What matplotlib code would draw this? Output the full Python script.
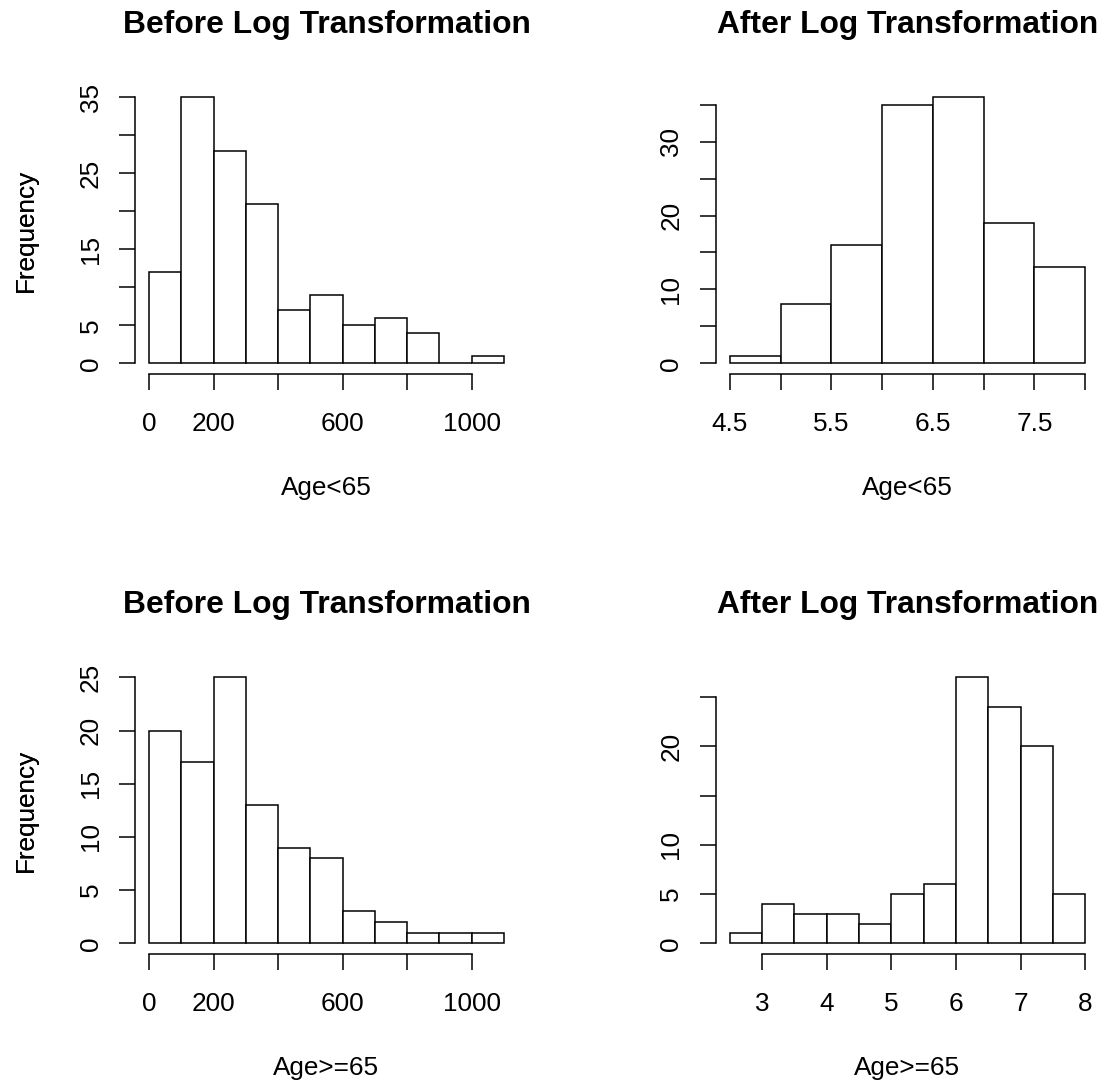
import matplotlib
matplotlib.use("Agg")
import matplotlib.pyplot as plt

plt.rcParams['font.family'] = ['Liberation Sans', 'DejaVu Sans']

# Age<65, raw values (bins of width 100)
young_raw_edges = [0, 100, 200, 300, 400, 500, 600, 700, 800, 900, 1000, 1100]
young_raw_counts = [12, 35, 28, 21, 7, 9, 5, 6, 4, 0, 1]

# Age<65, log values
young_log_edges = [4.5, 5.0, 5.5, 6.0, 6.5, 7.0, 7.5, 8.0]
young_log_counts = [1, 8, 16, 35, 36, 19, 13]

# Age>=65, raw values
old_raw_edges = [0, 100, 200, 300, 400, 500, 600, 700, 800, 900, 1000, 1100]
old_raw_counts = [20, 17, 25, 13, 9, 8, 3, 2, 1, 1, 1]

# Age>=65, log values
old_log_edges = [2.5, 3.0, 3.5, 4.0, 4.5, 5.0, 5.5, 6.0, 6.5, 7.0, 7.5, 8.0]
old_log_counts = [1, 4, 3, 3, 2, 5, 6, 27, 24, 20, 5]

# ticks and the labels R actually printed (others dropped for overlap)
raw_xticks = [0, 200, 400, 600, 800, 1000]
raw_xlabels = ["0", "200", "", "600", "", "1000"]
ylog_xticks = [4.5, 5.0, 5.5, 6.0, 6.5, 7.0, 7.5, 8.0]
ylog_xlabels = ["4.5", "", "5.5", "", "6.5", "", "7.5", ""]
olog_xticks = [3, 4, 5, 6, 7, 8]
olog_xlabels = ["3", "4", "5", "6", "7", "8"]

yr_yticks = [0, 5, 10, 15, 20, 25, 30, 35]
yr_ylabels = ["0", "5", "", "15", "", "25", "", "35"]
yl_yticks = [0, 5, 10, 15, 20, 25, 30, 35]
yl_ylabels = ["0", "", "10", "", "20", "", "30", ""]
or_yticks = [0, 5, 10, 15, 20, 25]
or_ylabels = ["0", "5", "10", "15", "20", "25"]
ol_yticks = [0, 5, 10, 15, 20, 25]
ol_ylabels = ["0", "5", "10", "", "20", ""]

W, H = 1104, 1084
fig = plt.figure(figsize=(W / 100, H / 100), dpi=100)

TICK = 18.8
LW = 1.1


def panel(px_left, px_right, px_top, px_bottom, edges, counts, xticks, xlabels,
          yticks, ylabels, title, xlab):
    ax = fig.add_axes([px_left / W, 1 - px_bottom / H,
                       (px_right - px_left) / W, (px_bottom - px_top) / H])
    hpx = px_bottom - px_top
    wpx = px_right - px_left
    widths = [edges[i + 1] - edges[i] for i in range(len(counts))]
    ax.bar(edges[:-1], counts, width=widths, align='edge', color='white',
           edgecolor='black', linewidth=LW)
    xr = edges[-1] - edges[0]
    ax.set_xlim(edges[0] - 0.04 * xr, edges[-1] + 0.04 * xr)
    ym = max(counts)
    ax.set_ylim(-0.04 * ym, 1.04 * ym)

    for s in ['top', 'right']:
        ax.spines[s].set_visible(False)
    for s in ['left', 'bottom']:
        ax.spines[s].set_linewidth(LW)
    ax.spines['bottom'].set_bounds(xticks[0], xticks[-1])
    ax.spines['left'].set_bounds(yticks[0], yticks[-1])

    ax.set_xticks(xticks)
    ax.set_xticklabels(xlabels)
    ax.set_yticks(yticks)
    ax.set_yticklabels(ylabels, rotation=90, va='center')
    ax.tick_params(axis='both', length=11.5, width=LW, labelsize=TICK)
    ax.tick_params(axis='x', pad=15.6)
    ax.tick_params(axis='y', pad=11.6)

    ax.set_title(title, fontsize=22.9, fontweight='bold', y=1 + 45.0 / hpx)
    ax.set_xlabel(xlab, fontsize=TICK, va='baseline')
    ax.xaxis.set_label_coords(0.5, -121 / hpx)
    ax.set_ylabel("Frequency", fontsize=TICK, va='baseline')
    ax.yaxis.set_label_coords((33 - px_left) / wpx, 0.5)
    return ax


L1, R1 = 134.8, 518.2
L2, R2 = 715.5, 1099.5
T1, B1 = 86.7, 373.9
T2, B2 = 666.7, 953.9

panel(L1, R1, T1, B1, young_raw_edges, young_raw_counts, raw_xticks, raw_xlabels,
      yr_yticks, yr_ylabels, "Before Log Transformation", "Age<65")
panel(L2, R2, T1, B1, young_log_edges, young_log_counts, ylog_xticks, ylog_xlabels,
      yl_yticks, yl_ylabels, "After Log Transformation", "Age<65")
panel(L1, R1, T2, B2, old_raw_edges, old_raw_counts, raw_xticks, raw_xlabels,
      or_yticks, or_ylabels, "Before Log Transformation", "Age>=65")
panel(L2, R2, T2, B2, old_log_edges, old_log_counts, olog_xticks, olog_xlabels,
      ol_yticks, ol_ylabels, "After Log Transformation", "Age>=65")

fig.savefig("out.png", dpi=100)
